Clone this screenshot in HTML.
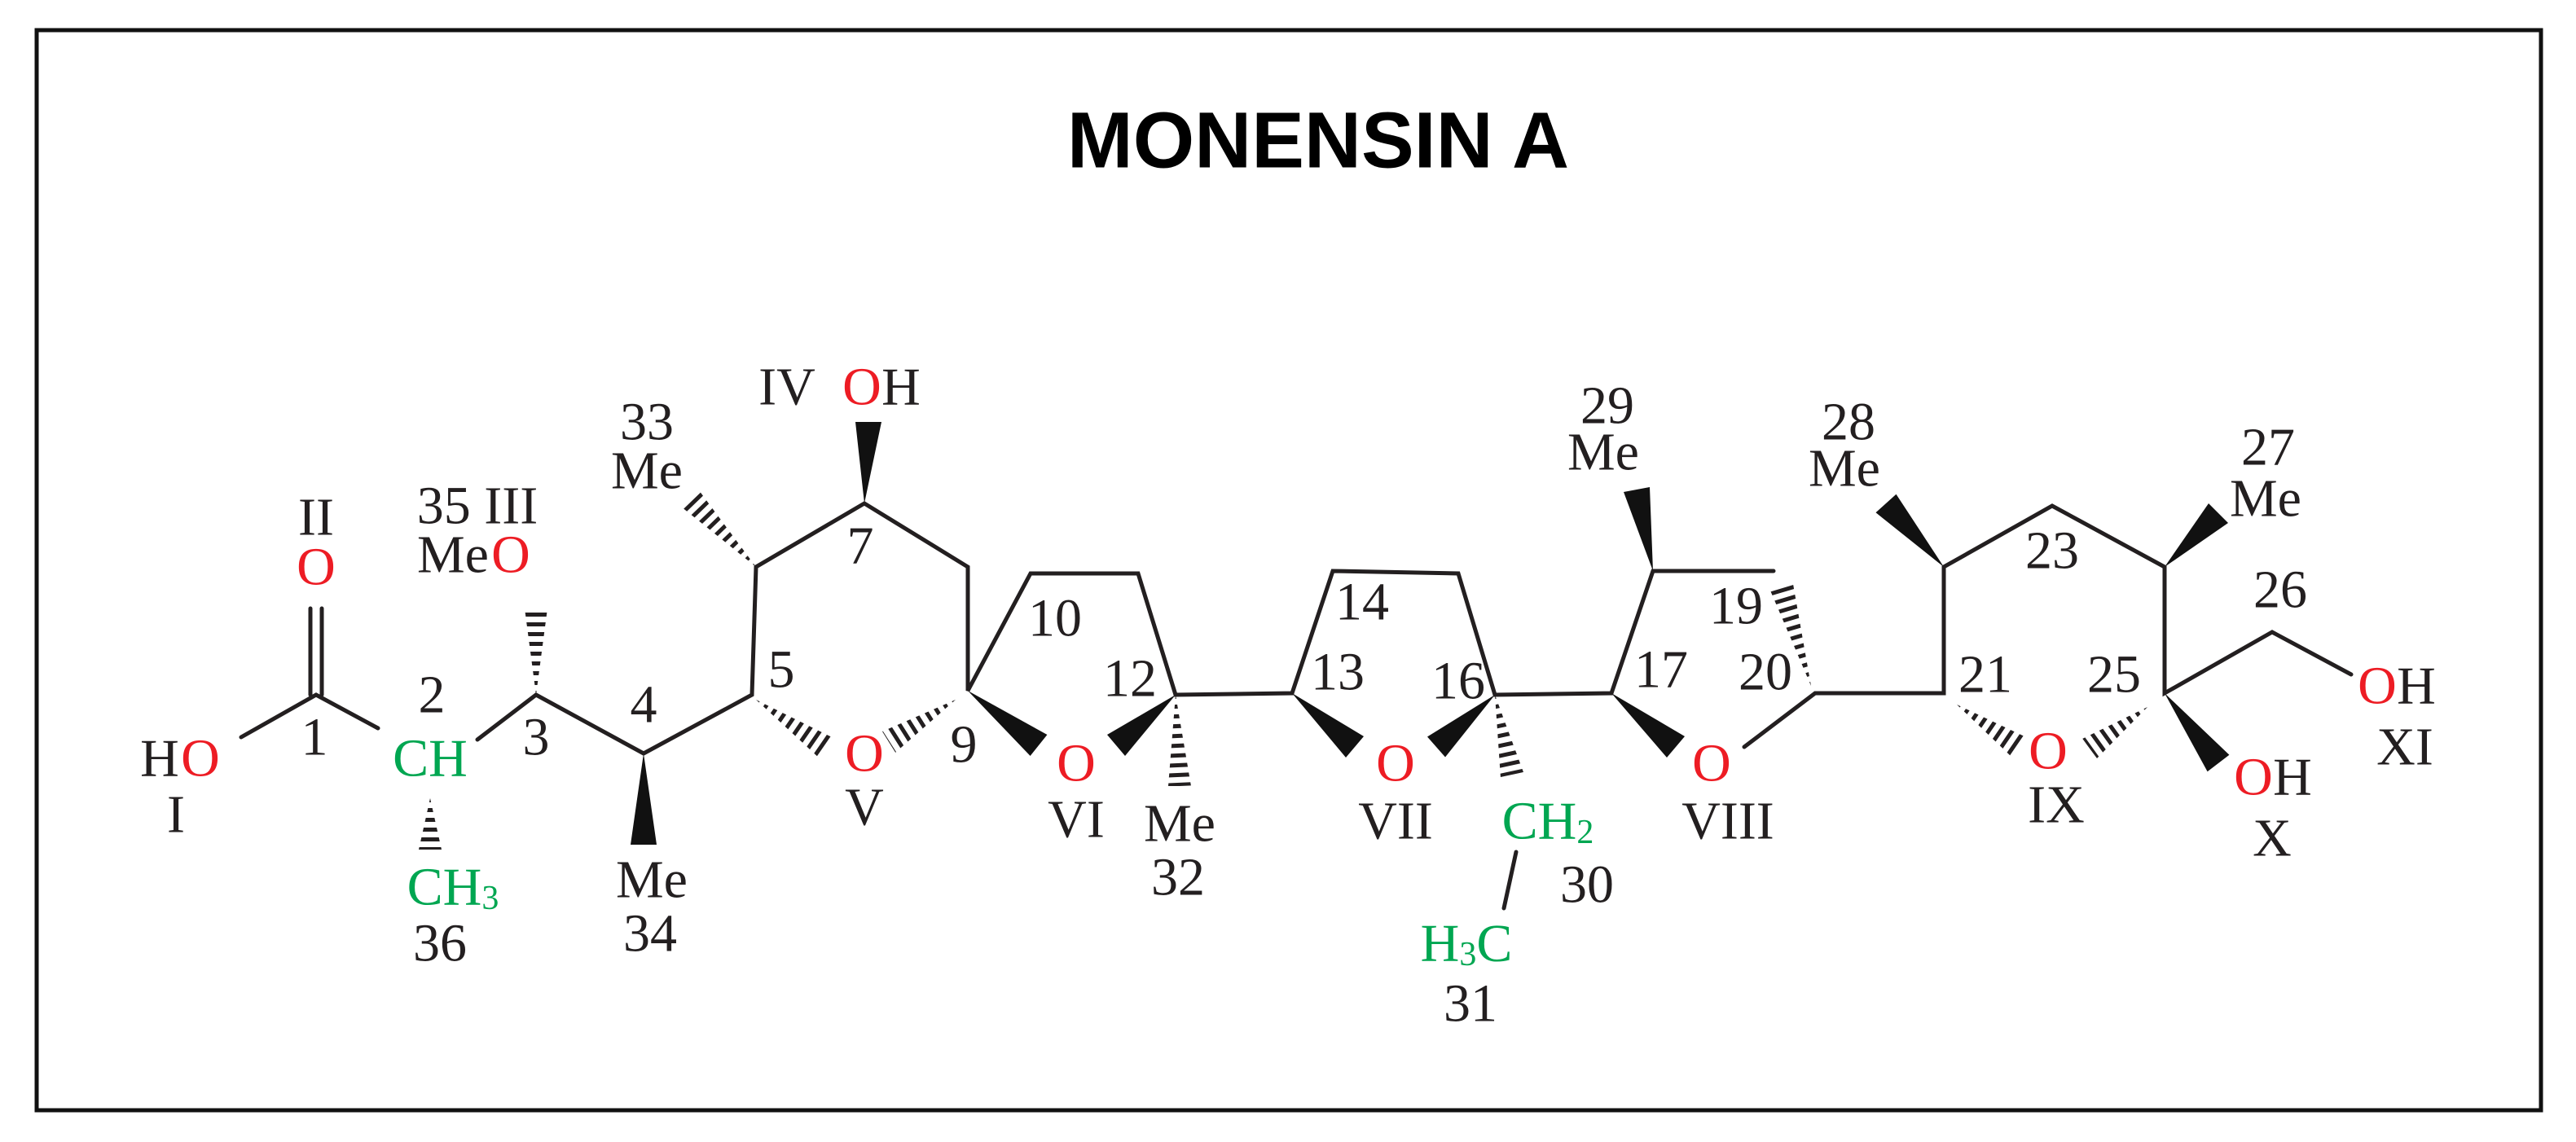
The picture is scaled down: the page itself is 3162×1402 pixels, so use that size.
<!DOCTYPE html>
<html><head><meta charset="utf-8"><style>
html,body{margin:0;padding:0;background:#fff}
svg{display:block}
.t{font-family:"Liberation Serif",serif;font-size:66px;fill:#231f20;text-anchor:middle;dominant-baseline:central}
.r{fill:#ed1c24}.g{fill:#00a651}
</style></head><body>
<svg width="3162" height="1402" viewBox="0 0 3162 1402" xmlns="http://www.w3.org/2000/svg">
<rect x="45" y="37" width="3074" height="1326" fill="none" stroke="#111" stroke-width="5"/>
<text x="1618" y="172" font-family="Liberation Sans,sans-serif" font-weight="bold" font-size="97" text-anchor="middle" dominant-baseline="central" fill="#000">MONENSIN A</text>
<defs>
<clipPath id="h1"><polygon points="658,853 644,747 672,747"/></clipPath>
<clipPath id="h2"><polygon points="528,980 514,1043 542,1043"/></clipPath>
<clipPath id="h3"><polygon points="928,696 836,622 858,602"/></clipPath>
<clipPath id="h4"><polygon points="928,859 1007,932 1023,906"/></clipPath>
<clipPath id="h5"><polygon points="1173,859 1083,898 1099,924"/></clipPath>
<clipPath id="h6"><polygon points="1443,853 1434,965 1462,965"/></clipPath>
<clipPath id="h7"><polygon points="1835,853 1842,955 1870,948"/></clipPath>
<clipPath id="h8"><polygon points="2223,842 2173,725 2201,717"/></clipPath>
<clipPath id="h9"><polygon points="2402,865 2469,929 2487,905"/></clipPath>
<clipPath id="h10"><polygon points="2636,868 2556,907 2574,931"/></clipPath>
</defs>
<g stroke="#231f20" stroke-width="36" stroke-dasharray="5 7" fill="none">
<line clip-path="url(#h1)" x1="658" y1="853" x2="658" y2="747"/>
<line clip-path="url(#h2)" x1="528" y1="980" x2="528" y2="1043"/>
<line clip-path="url(#h3)" x1="928" y1="696" x2="847" y2="612"/>
<line clip-path="url(#h4)" x1="928" y1="859" x2="1015" y2="919"/>
<line clip-path="url(#h5)" x1="1173" y1="859" x2="1091" y2="911"/>
<line clip-path="url(#h6)" x1="1443" y1="853" x2="1448" y2="965"/>
<line clip-path="url(#h7)" x1="1835" y1="853" x2="1856" y2="951"/>
<line clip-path="url(#h8)" x1="2223" y1="842" x2="2187" y2="721"/>
<line clip-path="url(#h9)" x1="2402" y1="865" x2="2478" y2="917"/>
<line clip-path="url(#h10)" x1="2636" y1="868" x2="2565" y2="919"/>
</g>
<g fill="#111">
<polygon points="790,925 774,1037 806,1037"/>
<polygon points="1061,618 1050,518 1082,518"/>
<polygon points="1188,848 1264.6,928 1285.4,902"/>
<polygon points="1443,853 1381,928 1359,902"/>
<polygon points="1586,851 1652,930 1674,904"/>
<polygon points="1835,853 1774,929.5 1752,904.5"/>
<polygon points="1978,851 2046,930 2068,904"/>
<polygon points="2029,701 2025,598 1993,604"/>
<polygon points="2386,696 2327.5,606.7 2302.5,629.3"/>
<polygon points="2657,696 2735,642 2711,618"/>
<polygon points="2657,851 2709.6,947.3 2736.4,926.7"/>
</g>
<g stroke="#231f20" stroke-width="5" fill="none" stroke-linecap="round">
<line x1="381" y1="853" x2="381" y2="747"/><line x1="395" y1="853" x2="395" y2="747"/>
<polyline points="296,905 388,853 464,894"/>
<polyline points="586,908 658,853 790,925 923,853 928,696 1061,618 1188,696 1188,848 1265,704 1397,704 1443,853 1586,851 1636,701 1790,704 1835,853 1978,851 2029,701 2177,701"/>
<polyline points="2141,917 2228,851 2386,851 2386,696 2519,621 2657,696 2657,851 2789,776 2886,828"/>
<line x1="1861" y1="1046" x2="1846" y2="1115"/>
</g>
<g class="t">
<text x="388" y="635">II</text><text x="388" y="696" class="r">O</text>
<text x="196" y="931">H</text><text x="246" y="931" class="r">O</text><text x="216" y="1000">I</text>
<text x="386" y="905">1</text><text x="528" y="931" class="g">CH</text><text x="530" y="853">2</text>
<text x="658" y="905">3</text>
<text x="586" y="621">35 III</text><text x="556" y="681">Me</text><text x="627" y="681" class="r">O</text>
<text x="556" y="1089" class="g">CH<tspan font-size="42" dy="14">3</tspan></text><text x="540" y="1158">36</text>
<text x="790" y="865">4</text><text x="800" y="1080">Me</text><text x="798" y="1146">34</text>
<text x="959" y="822">5</text><text x="794" y="578">Me</text><text x="794" y="518">33</text>
<text x="1056" y="670">7</text><text x="966" y="475">IV</text><text x="1058" y="475" class="r">O</text><text x="1106" y="475">H</text>
<text x="1183" y="914">9</text><text x="1061" y="925" class="r">O</text><text x="1061" y="991">V</text>
<text x="1295" y="759">10</text><text x="1387" y="833">12</text>
<text x="1321" y="937" class="r">O</text><text x="1321" y="1006">VI</text>
<text x="1448" y="1011">Me</text><text x="1446" y="1077">32</text>
<text x="1672" y="739">14</text><text x="1642" y="825">13</text><text x="1790" y="836">16</text>
<text x="1713" y="937" class="r">O</text><text x="1713" y="1008">VII</text>
<text x="1900" y="1008" class="g">CH<tspan font-size="42" dy="14">2</tspan></text><text x="1948" y="1086">30</text>
<text x="1800" y="1158" class="g">H<tspan font-size="42" dy="14">3</tspan><tspan dy="-14">C</tspan></text><text x="1805" y="1232">31</text>
<text x="2039" y="822">17</text><text x="2101" y="937" class="r">O</text><text x="2121" y="1008">VIII</text>
<text x="1968" y="555">Me</text><text x="1973" y="498">29</text>
<text x="2131" y="744">19</text><text x="2167" y="825">20</text>
<text x="2437" y="828">21</text><text x="2514" y="922" class="r">O</text><text x="2524" y="988">IX</text>
<text x="2264" y="575">Me</text><text x="2269" y="518">28</text>
<text x="2519" y="676">23</text><text x="2781" y="612">Me</text><text x="2784" y="549">27</text>
<text x="2595" y="828">25</text><text x="2799" y="724">26</text>
<text x="2766" y="954" class="r">O</text><text x="2814" y="954">H</text><text x="2789" y="1029">X</text>
<text x="2918" y="842" class="r">O</text><text x="2966" y="842">H</text><text x="2952" y="917">XI</text>
</g>
</svg>
</body></html>
